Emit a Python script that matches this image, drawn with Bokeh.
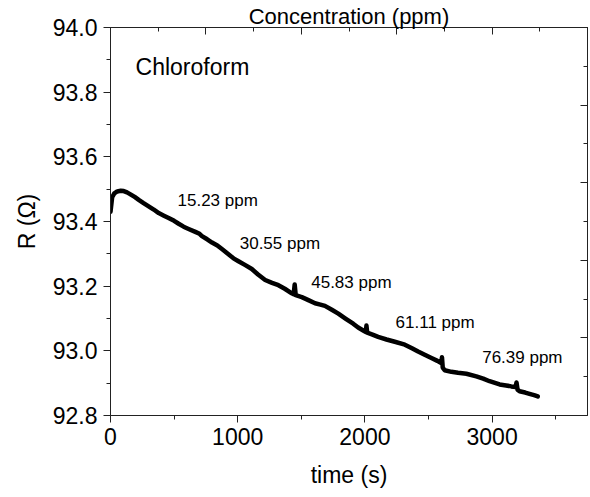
from bokeh.plotting import figure
from bokeh.models import (Range1d, LinearAxis, SingleIntervalTicker, PrintfTickFormatter,
                          Label, ColumnDataSource)
from bokeh.core.properties import value
from bokeh.embed import file_html
from bokeh.resources import INLINE

# ---- data ----
time_s = [0, 13, 30, 53, 80, 104, 130, 157, 190, 222, 260, 300, 340, 379, 420, 457, 500, 536,
          575, 614, 667, 700, 719, 760, 798, 840, 876, 920, 967, 1006, 1060, 1111, 1160, 1216,
          1270, 1320, 1370, 1425, 1440, 1448, 1456, 1504, 1560, 1608, 1650, 1686, 1740, 1791,
          1850, 1908, 1947, 1990, 2008, 2012, 2018, 2060, 2104, 2170, 2235, 2314, 2370, 2418,
          2470, 2523, 2570, 2600, 2606, 2612, 2627, 2680, 2732, 2798, 2876, 2930, 2980, 3059,
          3110, 3151, 3185, 3192, 3200, 3216, 3260, 3294, 3330, 3359]
resistance = [93.430, 93.475, 93.487, 93.493, 93.495, 93.494, 93.490, 93.484, 93.476, 93.467,
              93.457, 93.447, 93.437, 93.426, 93.418, 93.411, 93.402, 93.393, 93.384, 93.377,
              93.368, 93.362, 93.355, 93.345, 93.335, 93.326, 93.315, 93.301, 93.286, 93.277,
              93.265, 93.253, 93.236, 93.219, 93.210, 93.203, 93.192, 93.178, 93.175, 93.205,
              93.172, 93.166, 93.156, 93.147, 93.143, 93.139, 93.127, 93.115, 93.099, 93.084,
              93.072, 93.062, 93.058, 93.078, 93.056, 93.050, 93.043, 93.035, 93.028, 93.019,
              93.008, 92.998, 92.988, 92.978, 92.969, 92.962, 92.980, 92.948, 92.940, 92.935,
              92.932, 92.929, 92.921, 92.914, 92.906, 92.896, 92.893, 92.890, 92.888, 92.902,
              92.880, 92.875, 92.871, 92.867, 92.863, 92.859]

conc_labels = ["15.23 ppm", "30.55 ppm", "45.83 ppm", "61.11 ppm", "76.39 ppm"]
conc_label_t = [527, 1016, 1578, 2241, 2922]
conc_label_r = [93.465, 93.331, 93.210, 93.089, 92.979]

x_label = "time (s)"
y_label = "R (\u03a9)"
top_title = "Concentration (ppm)"
gas_name = "Chloroform"

FONT = "Liberation Sans"

p = figure(width=590, height=497, output_backend="svg", toolbar_location=None,
           x_range=Range1d(0, 3750), y_range=Range1d(92.8, 94.0),
           x_axis_type=None, y_axis_type=None,
           min_border_left=110, min_border_right=3, min_border_top=25, min_border_bottom=82)
p.margin = (0, 0, 0, 0)
p.xgrid.visible = False
p.ygrid.visible = False
p.outline_line_color = None
p.background_fill_color = "white"
p.border_fill_color = "white"

AX = "#222222"

def style_axis(ax, show_labels, tin, tout, mtin, mtout):
    ax.axis_line_color = AX
    ax.axis_line_width = 1
    ax.major_tick_line_color = AX
    ax.minor_tick_line_color = AX
    ax.major_tick_in = tin
    ax.major_tick_out = tout
    ax.minor_tick_in = mtin
    ax.minor_tick_out = mtout
    ax.axis_label_text_font = FONT
    ax.axis_label_text_font_style = "normal"
    ax.axis_label_text_color = "black"
    ax.axis_label_text_font_size = "23px"
    if show_labels:
        ax.major_label_text_font = FONT
        ax.major_label_text_font_size = "23px"
        ax.major_label_text_color = "black"
        ax.major_label_standoff = 5
    else:
        ax.major_label_text_color = None
        ax.major_label_text_font_size = "1px"
        ax.major_label_standoff = 0
        ax.axis_label_standoff = 0

bottom = LinearAxis(ticker=SingleIntervalTicker(interval=1000, num_minor_ticks=2),
                    axis_label=x_label)
style_axis(bottom, True, 0, 7, 0, 4)
bottom.axis_label_standoff = 14
p.add_layout(bottom, "below")

left = LinearAxis(ticker=SingleIntervalTicker(interval=0.2, num_minor_ticks=2),
                  formatter=PrintfTickFormatter(format="%.1f"), axis_label=y_label)
style_axis(left, True, 0, 7, 0, 4)
left.major_label_standoff = 6
left.axis_label_standoff = 10
p.add_layout(left, "left")

# top axis: ticks only, carries the "Concentration (ppm)" heading
top = LinearAxis(ticker=SingleIntervalTicker(interval=750, num_minor_ticks=2),
                 axis_label=top_title)
style_axis(top, False, 7, 0, 4, 0)
top.axis_label_text_font_size = "22px"
top.axis_label_standoff = -1
p.add_layout(top, "above")

p.extra_y_ranges = {"right": Range1d(0, 10)}
right = LinearAxis(y_range_name="right", ticker=SingleIntervalTicker(interval=2, num_minor_ticks=2))
style_axis(right, False, 7, 0, 4, 0)
p.add_layout(right, "right")

p.line(time_s, resistance, line_color="black", line_width=4.5, line_join="round", line_cap="round")

src = ColumnDataSource(dict(x=conc_label_t, y=conc_label_r, t=conc_labels))
p.text(x="x", y="y", text="t", source=src, text_font=value(FONT), text_font_size="17px",
       text_color="black", text_align="left", text_baseline="alphabetic")

p.add_layout(Label(x=197, y=93.879, text=gas_name, text_font=FONT, text_font_size="23px",
                   text_color="black", text_align="left", text_baseline="alphabetic"))

open("out.html", "w").write(file_html(p, INLINE))
